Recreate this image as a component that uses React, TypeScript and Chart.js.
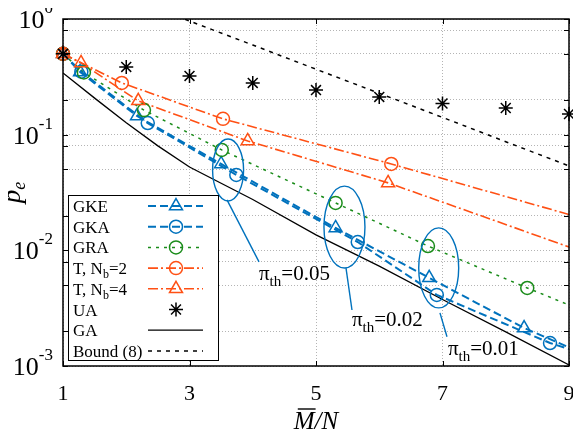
import { useEffect, useRef } from 'react';
import { Chart, registerables } from 'chart.js';
import { drawPoint } from 'chart.js/helpers';

Chart.register(...registerables);

// ---------- data ----------
const X_TICKS = [1, 3, 5, 7, 9];
const Y_DECADES = [0.001, 0.01, 0.1, 1];
const Y_DECADE_EXP = ['-3', '-2', '-1', '0'];
const Y_GRID = [0.001, 0.002, 0.005, 0.008, 0.01, 0.02, 0.05, 0.08, 0.1, 0.2, 0.5, 0.8, 1];

// GKE (markers) and the value where its curve ends at M/N = 9
const gkeX = [1, 1.27, 2.17, 3.5, 5.31, 6.79, 8.29];
const gkeY = [0.5, 0.348, 0.145, 0.0558, 0.0156, 0.00578, 0.00213];
const gkeEnd = 0.00145;

// GKA
const gkaX = [1, 1.29, 2.34, 3.74, 5.66, 6.91, 8.7];
const gkaY = [0.5, 0.35, 0.126, 0.0449, 0.0118, 0.00412, 0.00158];
const gkaEnd = 0.0014;

// GRA
const graX = [1, 1.33, 2.28, 3.51, 5.31, 6.77, 8.34];
const graY = [0.5, 0.345, 0.163, 0.0738, 0.0257, 0.0109, 0.00473];
const graEnd = 0.00337;

// T, Nb=2
const t2X = [1, 1.93, 3.53, 6.19];
const t2Y = [0.5, 0.28, 0.137, 0.0558];
const t2End = 0.0204;

// T, Nb=4
const t4X = [1, 1.285, 2.19, 3.92, 6.14];
const t4Y = [0.5, 0.417, 0.196, 0.0883, 0.0383];
const t4End = 0.0107;

// UA
const uaX = [1, 2, 3, 4, 5, 6, 7, 8, 9];
const uaY = [0.5, 0.385, 0.322, 0.28, 0.243, 0.212, 0.186, 0.17, 0.151];

// GA
const gaX = [1, 1.5, 2, 2.5, 3, 4, 5, 6, 7, 8, 9];
const gaY = [0.341, 0.207, 0.127, 0.08, 0.0525, 0.0275, 0.0136, 0.0073, 0.00376, 0.00197, 0.00102];

// Bound (8)
const boundX = [2, 3, 4, 5, 6, 7, 8, 9];
const boundY = [1.56, 0.96, 0.596, 0.368, 0.228, 0.141, 0.0869, 0.0537];

// annotation groups (pi_th)
const groupLabels = ['0.05', '0.02', '0.01'];
const groupCX = [3.61, 5.45, 6.94];
const groupCY = [0.0495, 0.0159, 0.00705];
const groupRX = [0.245, 0.324, 0.316]; // x units
const groupRY = [0.268, 0.354, 0.346]; // decades
const leaderX0 = [3.593, 5.474, 6.96];
const leaderY0 = [0.0273, 0.00705, 0.00288];
const leaderX1 = [4.099, 5.569, 7.071];
const leaderY1 = [0.00794, 0.00305, 0.00179];
const textX = [4.099, 5.569, 7.087];
const textY = [0.00555, 0.00222, 0.00125];

// ---------- styles ----------
const SERIF = '"Liberation Serif", "Times New Roman", Times, serif';
const BLUE = '#0072BD';
const GREEN = '#1a8c1a';
const ORANGE = '#ff5014';
const BLACK = '#000000';

const pts = (xs: number[], ys: number[]) => xs.map((x, i) => ({ x, y: ys[i] }));
const withEnd = (xs: number[], ys: number[], end: number) => pts([...xs, 9], [...ys, end]);

type Seg = { t: string; size: number; dy?: number; italic?: boolean };

function segWidth(ctx: CanvasRenderingContext2D, segs: Seg[]) {
  let w = 0;
  for (const s of segs) {
    ctx.font = `${s.italic ? 'italic ' : ''}${s.size}px ${SERIF}`;
    w += ctx.measureText(s.t).width;
  }
  return w;
}
function drawSegs(ctx: CanvasRenderingContext2D, segs: Seg[], x: number, y: number) {
  let cx = x;
  for (const s of segs) {
    ctx.font = `${s.italic ? 'italic ' : ''}${s.size}px ${SERIF}`;
    ctx.fillText(s.t, cx, y + (s.dy || 0));
    cx += ctx.measureText(s.t).width;
  }
  return cx - x;
}

type LegendEntry = {
  segs: Seg[];
  color: string;
  line: boolean;
  width: number;
  dash: number[];
  marker: string | null;
  radius: number;
};

const LFS = 17;
const legendEntries: LegendEntry[] = [
  { segs: [{ t: 'GKE', size: LFS }], color: BLUE, line: true, width: 2, dash: [8, 4], marker: 'triangle', radius: 7.5 },
  { segs: [{ t: 'GKA', size: LFS }], color: BLUE, line: true, width: 2, dash: [8, 4], marker: 'circle', radius: 6.5 },
  { segs: [{ t: 'GRA', size: LFS }], color: GREEN, line: true, width: 1.5, dash: [3, 5], marker: 'circle', radius: 6.5 },
  { segs: [{ t: 'T, N', size: LFS }, { t: 'b', size: 12, dy: 4 }, { t: '=2', size: LFS }], color: ORANGE, line: true, width: 1.6, dash: [10, 3, 2, 3], marker: 'circle', radius: 6.5 },
  { segs: [{ t: 'T, N', size: LFS }, { t: 'b', size: 12, dy: 4 }, { t: '=4', size: LFS }], color: ORANGE, line: true, width: 1.6, dash: [10, 3, 2, 3], marker: 'triangle', radius: 7.5 },
  { segs: [{ t: 'UA', size: LFS }], color: BLACK, line: false, width: 1.5, dash: [], marker: 'star', radius: 7 },
  { segs: [{ t: 'GA', size: LFS }], color: BLACK, line: true, width: 1.3, dash: [], marker: null, radius: 0 },
  { segs: [{ t: 'Bound (8)', size: LFS }], color: BLACK, line: true, width: 1.5, dash: [4, 5], marker: null, radius: 0 },
];

const decorPlugin = {
  id: 'decor',
  afterDatasetsDraw(chart: any) {
    const ctx: CanvasRenderingContext2D = chart.ctx;
    const ca = chart.chartArea;
    const xs = chart.scales.x;
    const ys = chart.scales.y;
    ctx.save();

    // frame
    ctx.setLineDash([]);
    ctx.strokeStyle = BLACK;
    ctx.lineWidth = 1.5;
    ctx.strokeRect(ca.left, ca.top, ca.right - ca.left, ca.bottom - ca.top);

    // inward ticks
    ctx.lineWidth = 1;
    const TL = 5;
    ctx.beginPath();
    for (const v of Y_GRID) {
      const y = Math.round(ys.getPixelForValue(v)) + 0.5;
      ctx.moveTo(ca.left, y); ctx.lineTo(ca.left + TL, y);
      ctx.moveTo(ca.right, y); ctx.lineTo(ca.right - TL, y);
    }
    for (const v of X_TICKS) {
      const x = Math.round(xs.getPixelForValue(v)) + 0.5;
      ctx.moveTo(x, ca.top); ctx.lineTo(x, ca.top + TL);
      ctx.moveTo(x, ca.bottom); ctx.lineTo(x, ca.bottom - TL);
    }
    ctx.stroke();

    // tick labels
    ctx.fillStyle = BLACK;
    ctx.textBaseline = 'alphabetic';
    ctx.font = `22px ${SERIF}`;
    ctx.textAlign = 'center';
    for (const v of X_TICKS) {
      ctx.fillText(String(v), xs.getPixelForValue(v), ca.bottom + 34);
    }
    ctx.textAlign = 'left';
    Y_DECADES.forEach((v, i) => {
      const y = ys.getPixelForValue(v);
      const segs: Seg[] = [{ t: '10', size: 26 }, { t: Y_DECADE_EXP[i], size: 17, dy: -15 }];
      const w = segWidth(ctx, segs);
      drawSegs(ctx, segs, ca.left - 10 - w, y + 9);
    });

    // axis titles
    {
      const segs: Seg[] = [{ t: 'M', size: 25, italic: true }, { t: '/N', size: 25, italic: true }];
      const w = segWidth(ctx, segs);
      const x0 = (ca.left + ca.right) / 2 - w / 2;
      const by = ca.bottom + 63;
      drawSegs(ctx, segs, x0, by);
      ctx.font = `italic 25px ${SERIF}`;
      const mw = ctx.measureText('M').width;
      ctx.beginPath();
      ctx.lineWidth = 1.4;
      ctx.moveTo(x0 + 4, by - 20);
      ctx.lineTo(x0 + mw + 1, by - 20);
      ctx.stroke();
    }
    {
      ctx.save();
      ctx.translate(ca.left - 43, (ca.top + ca.bottom) / 2);
      ctx.rotate(-Math.PI / 2);
      const segs: Seg[] = [{ t: 'p', size: 27, italic: true }, { t: 'e', size: 18, italic: true, dy: 5 }];
      const w = segWidth(ctx, segs);
      drawSegs(ctx, segs, -w / 2, 0);
      ctx.restore();
    }

    // pi_th annotations
    ctx.strokeStyle = BLUE;
    ctx.lineWidth = 1.4;
    ctx.setLineDash([]);
    const decPx = ys.getPixelForValue(0.01) - ys.getPixelForValue(0.1);
    const unitPx = xs.getPixelForValue(2) - xs.getPixelForValue(1);
    groupLabels.forEach((lab, i) => {
      ctx.beginPath();
      ctx.ellipse(xs.getPixelForValue(groupCX[i]), ys.getPixelForValue(groupCY[i]),
        groupRX[i] * unitPx, groupRY[i] * decPx, 0, 0, Math.PI * 2);
      ctx.stroke();
      ctx.beginPath();
      ctx.moveTo(xs.getPixelForValue(leaderX0[i]), ys.getPixelForValue(leaderY0[i]));
      ctx.lineTo(xs.getPixelForValue(leaderX1[i]), ys.getPixelForValue(leaderY1[i]));
      ctx.stroke();
      ctx.fillStyle = BLACK;
      drawSegs(ctx, [{ t: 'π', size: 21 }, { t: 'th', size: 15, dy: 6 }, { t: '=' + lab, size: 21 }],
        xs.getPixelForValue(textX[i]), ys.getPixelForValue(textY[i]));
    });

    // legend
    const rowH = 20.7;
    const bw = 150;
    const bh = 165;
    const bx = ca.left + 5;
    const by = ca.bottom - 6 - bh;
    ctx.fillStyle = '#ffffff';
    ctx.fillRect(bx, by, bw, bh);
    ctx.strokeStyle = BLACK;
    ctx.lineWidth = 1;
    ctx.strokeRect(Math.round(bx) + 0.5, Math.round(by) + 0.5, bw, bh);
    legendEntries.forEach((e, i) => {
      const cy = by + 11 + i * rowH;
      ctx.fillStyle = BLACK;
      drawSegs(ctx, e.segs, bx + 5, cy + 6);
      const sx0 = bx + 80, sx1 = bx + 135, mx = bx + 108;
      if (e.line) {
        ctx.beginPath();
        ctx.strokeStyle = e.color;
        ctx.lineWidth = e.width;
        ctx.setLineDash(e.dash);
        ctx.moveTo(sx0, cy);
        ctx.lineTo(sx1, cy);
        ctx.stroke();
      }
      if (e.marker) {
        ctx.setLineDash([]);
        ctx.strokeStyle = e.color;
        ctx.fillStyle = 'rgba(0,0,0,0)';
        ctx.lineWidth = 1.5;
        drawPoint(ctx, { pointStyle: e.marker as any, radius: e.radius, rotation: 0, borderWidth: 1.5 }, mx, cy);
      }
    });

    ctx.restore();
  },
};

const lineDs = (label: string, data: any[], color: string, width: number, dash: number[], order: number) => ({
  type: 'line' as const,
  label,
  data,
  borderColor: color,
  borderWidth: width,
  borderDash: dash,
  pointRadius: 0,
  fill: false,
  tension: 0,
  order,
});
const markDs = (label: string, data: any[], color: string, style: string, radius: number, order: number) => ({
  type: 'line' as const,
  label,
  data,
  showLine: false,
  pointStyle: style,
  pointRadius: radius,
  pointBorderColor: color,
  pointBackgroundColor: 'rgba(0,0,0,0)',
  pointBorderWidth: 1.5,
  clip: false as any,
  order,
});

export default function App() {
  const ref = useRef<HTMLCanvasElement>(null);
  useEffect(() => {
    const chart = new Chart(ref.current as HTMLCanvasElement, {
      type: 'line',
      data: {
        datasets: [
          lineDs('Bound (8)', pts(boundX, boundY), BLACK, 1.5, [4, 5], 20),
          lineDs('GA', pts(gaX, gaY), BLACK, 1.3, [], 20),
          lineDs('GKE line', withEnd(gkeX, gkeY, gkeEnd), BLUE, 2, [8, 4], 15),
          lineDs('GKA line', withEnd(gkaX, gkaY, gkaEnd), BLUE, 2, [8, 4], 15),
          lineDs('GRA line', withEnd(graX, graY, graEnd), GREEN, 1.5, [3, 5], 15),
          lineDs('T, Nb=2 line', withEnd(t2X, t2Y, t2End), ORANGE, 1.6, [10, 3, 2, 3], 15),
          lineDs('T, Nb=4 line', withEnd(t4X, t4Y, t4End), ORANGE, 1.6, [10, 3, 2, 3], 15),
          markDs('GKE', pts(gkeX, gkeY), BLUE, 'triangle', 7.5, 8),
          markDs('GKA', pts(gkaX, gkaY), BLUE, 'circle', 6.5, 7),
          markDs('GRA', pts(graX, graY), GREEN, 'circle', 6.5, 6),
          markDs('T, Nb=2', pts(t2X, t2Y), ORANGE, 'circle', 6.5, 5),
          markDs('T, Nb=4', pts(t4X, t4Y), ORANGE, 'triangle', 7.5, 4),
          markDs('UA', pts(uaX, uaY), BLACK, 'star', 7, 2),
        ],
      },
      options: {
        animation: false,
        responsive: true,
        maintainAspectRatio: false,
        events: [],
        layout: { autoPadding: false, padding: { left: 63, right: 12, top: 19, bottom: 74 } },
        plugins: { legend: { display: false }, tooltip: { enabled: false }, title: { display: false } },
        scales: {
          x: {
            type: 'linear',
            min: 1,
            max: 9,
            afterBuildTicks: (s: any) => { s.ticks = X_TICKS.map((v) => ({ value: v })); },
            afterFit: (s: any) => { s.height = 0; },
            ticks: { display: false },
            grid: { color: '#b4b4b4', lineWidth: 1, drawTicks: false },
            border: { display: false, dash: [1, 2] },
          },
          y: {
            type: 'logarithmic',
            min: 0.001,
            max: 1,
            afterBuildTicks: (s: any) => { s.ticks = Y_GRID.map((v) => ({ value: v })); },
            afterFit: (s: any) => { s.width = 0; },
            ticks: { display: false },
            grid: { color: '#b4b4b4', lineWidth: 1, drawTicks: false },
            border: { display: false, dash: [1, 2] },
          },
        },
      },
      plugins: [decorPlugin],
    } as any);
    return () => chart.destroy();
  }, []);
  return (
    <div style={{ position: 'relative', marginLeft: -8, marginTop: -8, width: 581, height: 440 }}>
      <canvas ref={ref} />
    </div>
  );
}
